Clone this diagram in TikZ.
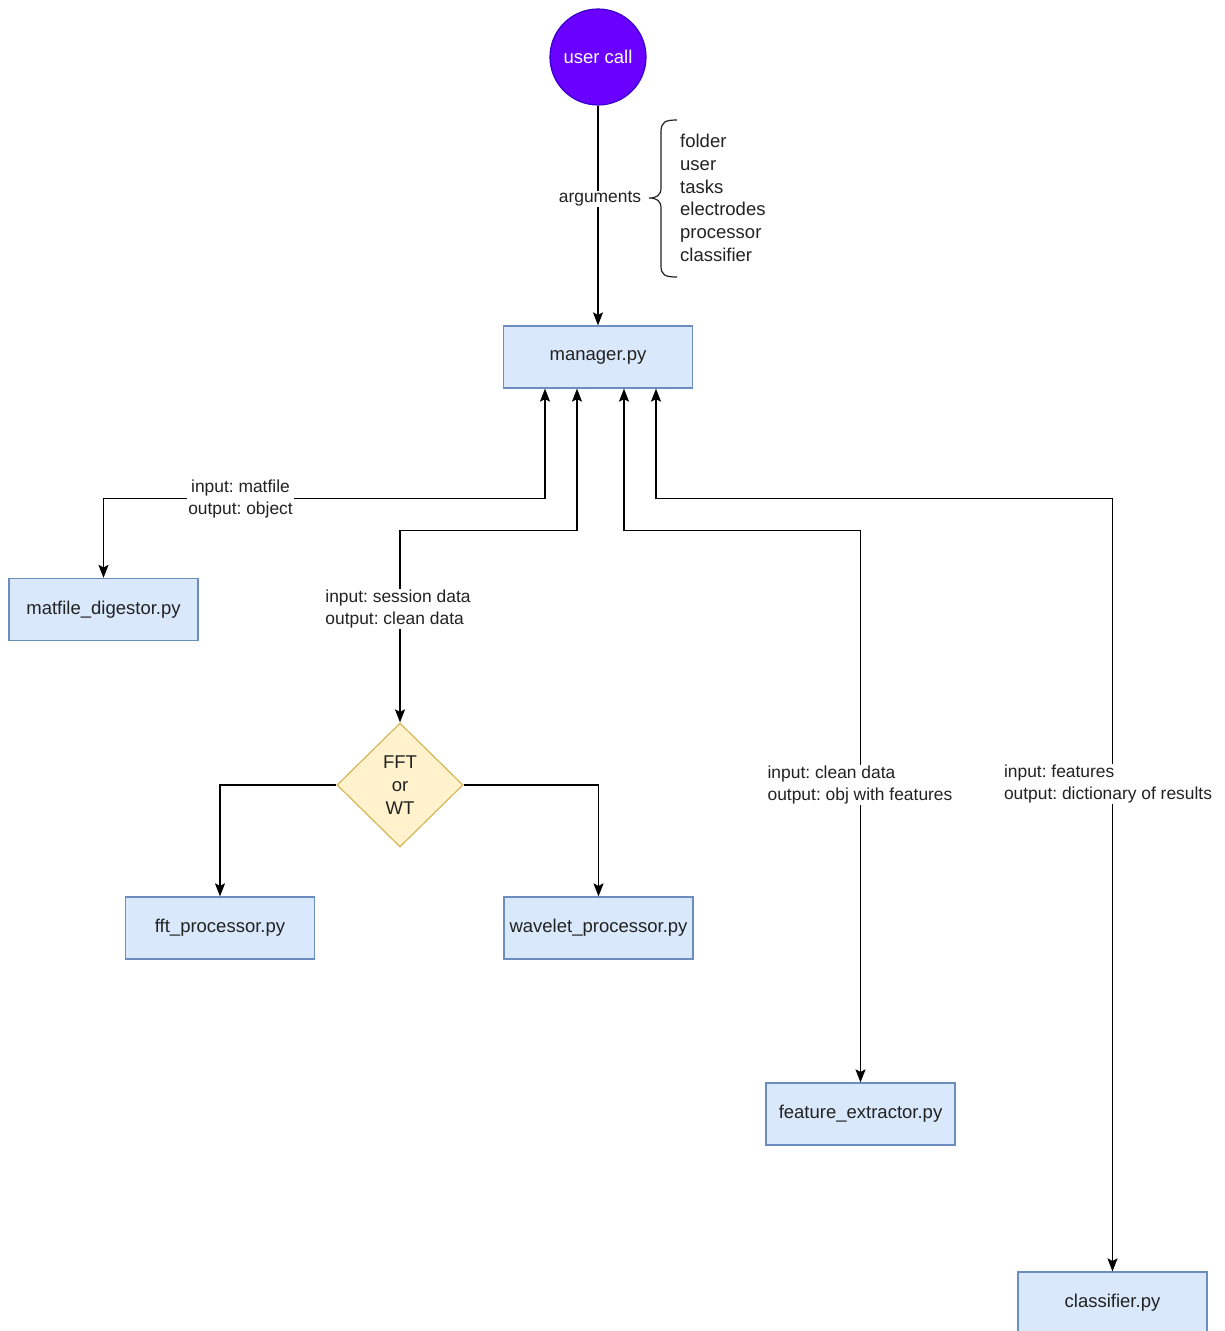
\documentclass[tikz,border=0pt]{standalone}
\usepackage{fontspec}
\setmainfont{Liberation Sans}
\usetikzlibrary{shapes.geometric,arrows.meta,calc}

\definecolor{boxfill}{HTML}{DAE8FC}
\definecolor{boxline}{HTML}{6C8EBF}
\definecolor{decfill}{HTML}{FFF2CC}
\definecolor{decline}{HTML}{D6B656}
\definecolor{callfill}{HTML}{6A00FF}
\definecolor{callline}{HTML}{3700CC}
\definecolor{ink}{HTML}{222222}

\frenchspacing

\tikzset{
  tip/.tip={Stealth[length=13pt,width=10pt,inset=2.5pt]},
  module/.style={draw=boxline, fill=boxfill, line width=1.2pt, rectangle,
    minimum width=189pt, minimum height=62pt, inner sep=0pt, text=ink,
    font=\fontsize{18.5}{22.7}\selectfont},
  decision/.style={draw=decline, fill=decfill, line width=1.2pt, diamond,
    minimum width=126pt, minimum height=124pt, inner sep=0pt, text=ink,
    align=center, font=\fontsize{18.5}{23}\selectfont},
  startnode/.style={draw=callline, fill=callfill, line width=1.2pt, circle,
    minimum size=96pt, inner sep=0pt, text=white,
    font=\fontsize{18.5}{22.7}\selectfont},
  flow/.style={line width=1.5pt, draw=black, -tip},
  twoway/.style={line width=1.5pt, draw=black, tip-tip},
  tag/.style={fill=white, inner sep=1pt, text=ink,
    font=\fontsize{17.4}{22}\selectfont},
}

\begin{document}
\begin{tikzpicture}[x=1pt, y=-1pt]
  \clip (0,0) rectangle (1224,1331);
  \fill[white] (0,0) rectangle (1224,1331);

  % components
  \node[startnode] (uc) at (598,57) {user call};
  \node[module] (mgr) at (598,357) {manager.py};
  \node[module] (dig) at (103.5,609.5) {matfile\_digestor.py};
  \node[decision] (dia) at (400,785) {FFT\\or\\WT};
  \node[module] (fft) at (220,928) {fft\_processor.py};
  \node[module] (wav) at (598.5,928) {wavelet\_processor.py};
  \node[module] (fe) at (860.5,1114) {feature\_extractor.py};
  \node[module] (cls) at (1112.5,1303) {classifier.py};

  % call into the manager
  \draw[flow] (uc.south) -- (mgr.north);
  \node[tag] (argl) at (600,199) {arguments};

  % argument list with its curly brace
  \draw[line width=1.2pt, ink]
    (677,120) .. controls (665,120) and (661,122) .. (661,132)
    -- (661,188) .. controls (661,195) and (657,198) .. (649,198)
    .. controls (657,198) and (661,201) .. (661,208)
    -- (661,266) .. controls (661,275) and (665,277) .. (677,277);
  \node[anchor=north west, align=left, inner sep=0pt, text=ink,
        font=\fontsize{18.5}{22.7}\selectfont] (args) at (680,134)
    {folder\\user\\tasks\\electrodes\\processor\\classifier};

  % manager <-> modules
  \draw[twoway] ($(mgr.south)+(-53,0)$) -- ++(0,110) -| (dig.north);
  \node[tag, align=center] (l1) at (240.5,499) {input: matfile\\output: object};

  \draw[twoway] ($(mgr.south)+(-21,0)$) -- ++(0,142) -| (dia.north);
  \node[tag, align=left] (l2) at (398,609) {input: session data\\output: clean data};

  \draw[twoway] ($(mgr.south)+(26,0)$) -- ++(0,142) -| (fe.north);
  \node[tag, align=left] (l3) at (860,785) {input: clean data\\output: obj with features};

  \draw[twoway] ($(mgr.south)+(58,0)$) -- ++(0,110) -| (cls.north);
  \node[tag, align=left] (l4) at (1108,784) {input: features\\output: dictionary of results};

  % processor choice
  \draw[flow] (dia.west) -| (fft.north);
  \draw[flow] (dia.east) -| (wav.north);
\end{tikzpicture}
\end{document}
